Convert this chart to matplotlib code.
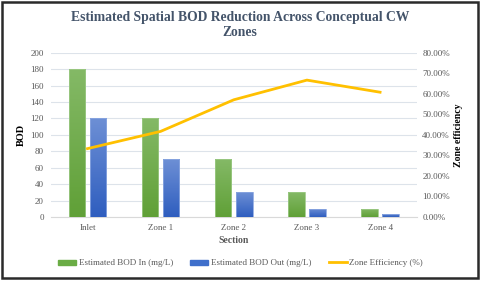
import numpy as np
import matplotlib
matplotlib.use("Agg")
import matplotlib.pyplot as plt
from matplotlib.patches import Rectangle
from matplotlib.lines import Line2D
from matplotlib.ticker import FuncFormatter

sections = ["Inlet", "Zone 1", "Zone 2", "Zone 3", "Zone 4"]
bod_in = [180, 120, 70, 30, 10]
bod_out = [120, 70, 30, 10, 4]
efficiency = [33.3, 41.7, 57.1, 66.7, 60.8]

plt.rcParams["font.family"] = ["Liberation Serif", "DejaVu Serif"]
TXT = "#595959"

fig = plt.figure(figsize=(4.8, 2.81), dpi=100)
ax = fig.add_axes([0.106, 0.228, 0.762, 0.584])
ax2 = ax.twinx()

x = np.arange(len(sections))
w = 0.225
gap = 0.065


def grad_bars(xs, heights, top, bottom, edge):
    cmap = matplotlib.colors.LinearSegmentedColormap.from_list("g", [bottom, top])
    bars = ax.bar(xs, heights, w, color="none", edgecolor=edge, lw=0.6, zorder=4)
    for b in bars:
        im = ax.imshow(np.linspace(0, 1, 64).reshape(-1, 1), cmap=cmap,
                       origin="lower", aspect="auto", zorder=3,
                       extent=[b.get_x(), b.get_x() + b.get_width(), 0, b.get_height()])
        im.set_clip_path(b)
    return bars


grad_bars(x - w / 2 - gap / 2, bod_in, "#84b966", "#60a037", "#9cc985")
grad_bars(x + w / 2 + gap / 2, bod_out, "#6d8fd5", "#2f5ebf", "#8aa6e0")

ax.set_xlim(-0.5, 4.5)
ax.set_ylim(0, 200)
ax.set_yticks(range(0, 201, 20))
ax.set_xticks(x)
ax.set_xticklabels(sections)
ax.grid(axis="y", color="#dde3ea", lw=0.8, zorder=0)
ax.set_axisbelow(True)
for s in ["top", "right", "left"]:
    ax.spines[s].set_visible(False)
ax.spines["bottom"].set_color("#d9d9d9")
ax.tick_params(length=0, labelsize=6.5, colors=TXT, pad=5)
ax.set_xlabel("Section", fontsize=7, fontweight="bold", color=TXT, labelpad=3)
ax.set_ylabel("BOD", fontsize=7.5, fontweight="bold", color="black", labelpad=3)

ax2.plot(x, efficiency, color="#ffc000", lw=2, zorder=5)
ax2.set_ylim(0, 80)
ax2.set_yticks(range(0, 81, 10))
ax2.yaxis.set_major_formatter(FuncFormatter(lambda v, p: f"{v:.2f}%"))
for s in ax2.spines.values():
    s.set_visible(False)
ax2.tick_params(length=0, labelsize=6.5, colors=TXT, pad=4)
ax2.set_ylabel("Zone efficiency", fontsize=7, fontweight="bold", color="black", labelpad=3)

fig.suptitle("Estimated Spatial BOD Reduction Across Conceptual CW\nZones",
             x=0.5, y=0.96, fontsize=9.8, fontweight="bold", color="#44546a",
             linespacing=1.2)

handles = [Rectangle((0, 0), 1, 1, color="#6aac45"),
           Rectangle((0, 0), 1, 1, color="#3f6fcb"),
           Line2D([0], [0], color="#ffc000", lw=2)]
labels = ["Estimated BOD In (mg/L)", "Estimated BOD Out (mg/L)", "Zone Efficiency (%)"]
fig.legend(handles, labels, loc="center", bbox_to_anchor=(0.501, 0.063), ncol=3,
           frameon=False, fontsize=6.5, labelcolor=TXT, handlelength=2.0,
           handleheight=0.45, handletextpad=0.3, columnspacing=1.9)

fig.patches.append(Rectangle((0.004, 0.012), 0.991, 0.982, transform=fig.transFigure,
                             fill=False, lw=1.8, edgecolor="#2a2a2a"))

fig.savefig("out.png", dpi=100)
